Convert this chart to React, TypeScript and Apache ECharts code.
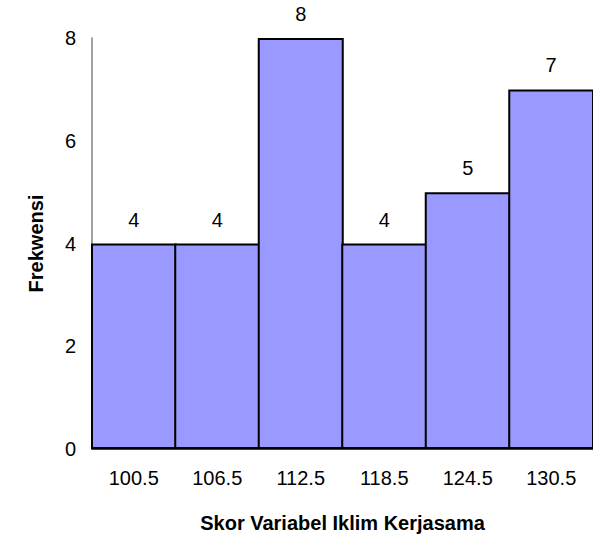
import React, { useEffect, useRef } from "react";
import * as echarts from "echarts";

const categories = ["100.5", "106.5", "112.5", "118.5", "124.5", "130.5"];
const frequencies = [4, 4, 8, 4, 5, 7];
const yTicks = [0, 2, 4, 6, 8];

const FONT = "'Liberation Sans', Arial, sans-serif";

export default function App() {
  const ref = useRef<HTMLDivElement>(null);
  useEffect(() => {
    if (!ref.current) return;
    const chart = echarts.init(ref.current, null, { renderer: "svg" });
    chart.setOption({
      animation: false,
      backgroundColor: "#ffffff",
      grid: { left: 92, top: 38, width: 504, height: 416, containLabel: false },
      xAxis: {
        type: "category",
        data: categories,
        name: "Skor Variabel Iklim Kerjasama",
        nameLocation: "middle",
        nameGap: 64,
        nameTextStyle: { fontFamily: FONT, fontSize: 20, fontWeight: "bold", color: "#000" },
        axisLine: { show: true, lineStyle: { color: "#000", width: 1.5 } },
        axisTick: { show: false },
        axisLabel: { fontFamily: FONT, fontSize: 20, color: "#000", margin: 19 },
      },
      yAxis: {
        type: "value",
        min: yTicks[0],
        max: yTicks[yTicks.length - 1],
        interval: 2,
        name: "Frekwensi",
        nameLocation: "middle",
        nameGap: 46,
        nameTextStyle: { fontFamily: FONT, fontSize: 20, fontWeight: "bold", color: "#000" },
        axisLine: { show: true, lineStyle: { color: "#808080", width: 1.5 } },
        axisTick: { show: false },
        splitLine: { show: false },
        axisLabel: { fontFamily: FONT, fontSize: 20, color: "#000", margin: 16 },
      },
      series: [
        {
          type: "bar",
          data: frequencies,
          barWidth: 86,
          itemStyle: { color: "#9999FF", borderColor: "#000", borderWidth: 2 },
          label: {
            show: true,
            position: "top",
            distance: 14,
            fontFamily: FONT,
            fontSize: 20,
            color: "#000",
          },
        },
      ],
    });
    return () => chart.dispose();
  }, []);
  return (
    <div
      ref={ref}
      style={{ position: "fixed", left: 0, top: 0, width: 593, height: 538, background: "#fff" }}
    />
  );
}
